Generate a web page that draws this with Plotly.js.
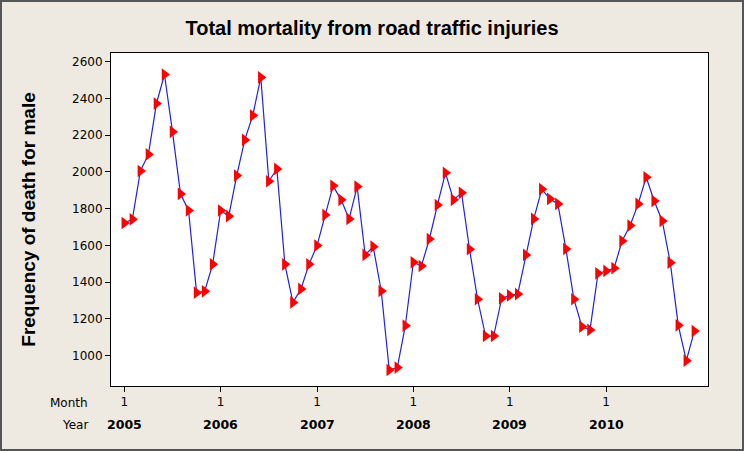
<!DOCTYPE html>
<html>
<head>
<meta charset="utf-8">
<script src="https://cdn.plot.ly/plotly-3.0.1.min.js"></script>
<style>html,body{margin:0;padding:0;background:#eeeae1;}</style>
</head>
<body>
<div id="chart" style="width:744px;height:451px;"></div>
<script>
const years = ["2005","2006","2007","2008","2009","2010"];
const monthTickLabel = "1";
const deaths = [
  1722, 1742, 2005, 2095, 2372, 2530, 2218, 1880, 1790, 1343, 1350, 1497,
  1790, 1759, 1980, 2174, 2307, 2514, 1949, 2016, 1497, 1290, 1363, 1497,
  1599, 1766, 1924, 1848, 1744, 1920, 1548, 1593, 1352, 922, 935, 1163,
  1508, 1488, 1635, 1820, 1995, 1848, 1886, 1579, 1307, 1107, 1107, 1312,
  1328, 1335, 1548, 1744, 1906, 1853, 1826, 1581, 1307, 1158, 1140, 1448,
  1461, 1476, 1624, 1708, 1826, 1971, 1842, 1733, 1506, 1165, 973, 1134
];
const idx = deaths.map((_, i) => i + 1);
const tickVals = years.map((_, i) => 1 + 12 * i);
const tickText = years.map(() => monthTickLabel);

const W = 744, H = 451, ml = 111, mr = 36, mt = 53, mb = 65;
const pw = W - ml - mr, ph = H - mt - mb;
const lblFont = {family: "DejaVu Sans", size: 12, color: "#000"};

const trace = {
  x: idx, y: deaths, type: "scatter", mode: "lines+markers",
  line: {color: "#2222dd", width: 1.2},
  marker: {symbol: "triangle-right", color: "#ff0000", size: 11},
  hoverinfo: "skip", cliponaxis: false
};

const yearAnn = years.map((y, i) => ({
  text: "<b>" + y + "</b>", xref: "x", yref: "paper", x: tickVals[i],
  y: -(425 - (mt + ph)) / ph, xanchor: "center", yanchor: "middle",
  showarrow: false, font: {family: "DejaVu Sans", size: 12.5, color: "#000"}
}));

const layout = {
  width: W, height: H,
  margin: {l: ml, r: mr, t: mt, b: mb},
  paper_bgcolor: "#eeeae1", plot_bgcolor: "#ffffff",
  showlegend: false,
  font: lblFont,
  title: {
    text: "<b>Total mortality from road traffic injuries</b>",
    font: {family: "Liberation Sans", size: 20, color: "#000"},
    x: 0.5, xanchor: "center", y: 1 - 28 / H, yanchor: "middle"
  },
  xaxis: {
    range: [-0.66, 73.7], tickmode: "array", tickvals: tickVals, ticktext: tickText,
    showgrid: false, zeroline: false, showline: true, linecolor: "#000", linewidth: 1,
    mirror: true, ticks: "outside", ticklen: 5, tickcolor: "#000",
    tickfont: lblFont
  },
  yaxis: {
    range: [835, 2647], tickmode: "array",
    tickvals: [1000, 1200, 1400, 1600, 1800, 2000, 2200, 2400, 2600],
    showgrid: false, zeroline: false, showline: true, linecolor: "#000", linewidth: 1,
    mirror: true, ticks: "outside", ticklen: 5, tickcolor: "#000",
    tickfont: lblFont,
    title: {text: "<b>Frequency of death for male</b>",
            font: {family: "Liberation Sans", size: 19, color: "#000"}, standoff: 31}
  },
  annotations: [
    {text: "Month", xref: "paper", yref: "paper", x: (90 - ml) / pw, y: -(403 - (mt + ph)) / ph,
     xanchor: "right", yanchor: "middle", showarrow: false, font: lblFont},
    {text: "Year", xref: "paper", yref: "paper", x: (90 - ml) / pw, y: -(425 - (mt + ph)) / ph,
     xanchor: "right", yanchor: "middle", showarrow: false, font: lblFont}
  ].concat(yearAnn),
  shapes: [
    {type: "rect", xref: "paper", yref: "paper",
     x0: (1 - ml) / pw, x1: 1 + (mr - 1) / pw,
     y0: -(mb - 1) / ph, y1: 1 + (mt - 1) / ph,
     line: {color: "#555555", width: 2}, layer: "above"}
  ]
};

Plotly.newPlot("chart", [trace], layout, {displayModeBar: false, staticPlot: true});
</script>
</body>
</html>
